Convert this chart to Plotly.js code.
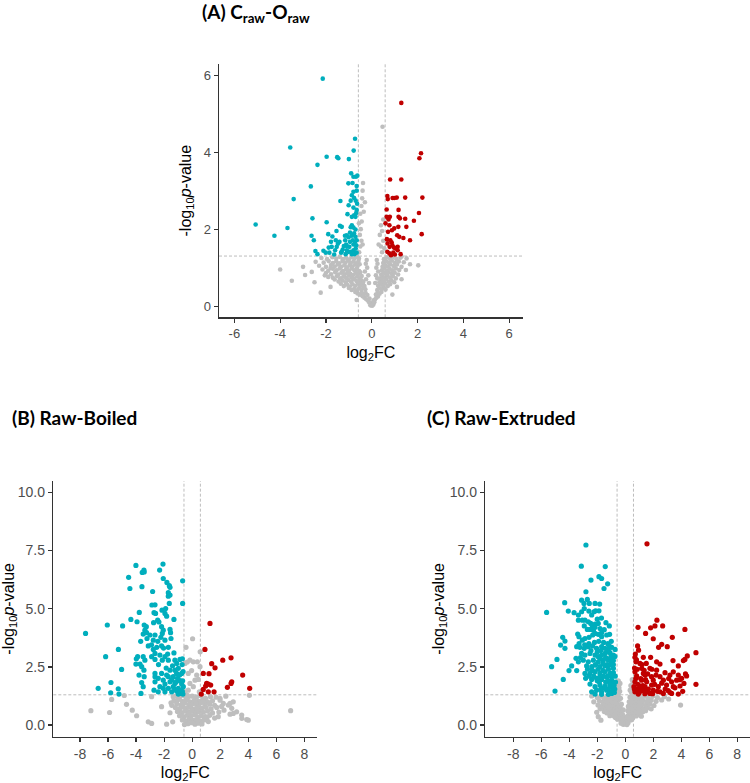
<!DOCTYPE html>
<html>
<head>
<meta charset="utf-8">
<script src="https://cdn.plot.ly/plotly-3.0.1.min.js"></script>
<style>
  html, body { margin: 0; padding: 0; background: #fff; }
  #chart { width: 750px; height: 783px; }
</style>
</head>
<body>
<div id="chart"></div>
<script>
// ---------- (A) Craw-Oraw : [log2FC, -log10 p] ----------
const aDown = [
  [-2.14,5.91],[-3.56,4.12],[-0.73,4.35],[-0.79,4.04],[-1.97,3.88],[-1.51,3.87],[-1.46,3.84],[-1.00,3.82],
  [-2.37,3.67],[-2.66,3.11],[-3.41,2.78],[-1.37,2.73],[-5.07,2.12],[-3.68,2.03],[-4.25,1.83],[-2.59,2.28],
  [-1.97,2.18],[-2.63,1.83],[-2.53,1.71],[-2.46,1.43],[-2.37,1.35],[-2.11,1.44],[-2.01,1.39],[-1.85,1.39],
  [-1.90,1.87],[-1.64,1.34],[-1.54,1.95],[-1.72,1.81],[-1.39,2.09],[-1.31,2.06],[-1.78,1.67],[-1.57,1.71],
  [-1.48,1.62],[-1.75,1.54],[-1.88,1.52],[-1.34,1.39],[-1.14,1.35],[-1.27,1.47],[-1.09,1.56],[-1.02,1.41],
  [-1.01,1.79],[-1.17,1.83],[-0.95,1.91],[-0.87,2.10],[-0.90,3.45],[-0.80,3.36],[-0.69,3.36],[-0.63,3.39],
  [-1.02,3.19],[-0.84,3.20],[-0.66,3.12],[-0.80,2.97],[-0.66,3.00],[-0.87,2.88],[-0.77,2.81],[-0.92,2.74],
  [-0.70,2.74],[-0.64,2.66],[-1.01,2.62],[-0.80,2.56],[-0.66,2.50],[-0.68,2.42],[-0.71,2.32],[-0.87,2.32],
  [-0.77,2.36],[-1.06,2.39],[-0.92,2.05],[-0.80,2.04],[-0.71,1.99],[-1.09,1.84],[-0.87,1.83],[-0.77,1.89],
  [-0.71,1.80],[-0.83,1.71],[-0.95,1.67],[-0.73,1.67],[-0.66,1.71],[-1.12,1.60],[-0.98,1.54],[-0.80,1.60],
  [-0.68,1.58],[-1.09,1.45],[-0.92,1.41],[-0.80,1.45],[-0.70,1.50],[-0.87,1.35],[-0.76,1.35],[-0.66,1.39],
  [-1.22,1.56],[-1.31,1.41],[-1.16,1.71],[-1.53,1.54],[-1.60,1.45],[-1.41,1.67]
];
const aUp = [
  [1.29,5.28],[2.15,3.97],[2.08,3.84],[0.80,3.29],[1.29,3.29],[0.68,2.86],[0.70,2.78],[0.91,2.81],
  [0.98,2.81],[1.09,2.82],[1.46,2.82],[2.21,2.82],[0.65,2.51],[1.17,2.50],[2.06,2.42],[2.18,1.87],
  [1.67,1.71],[1.84,2.22],[1.51,2.06],[1.46,2.27],[1.17,2.32],[1.23,2.28],[0.60,2.15],[0.73,2.25],
  [0.79,2.32],[0.65,2.32],[0.77,2.10],[0.88,1.97],[0.71,1.93],[1.16,2.06],[0.98,2.02],[1.11,1.84],
  [1.20,1.80],[1.38,1.77],[0.66,1.74],[0.81,1.71],[0.87,1.65],[0.69,1.63],[0.78,1.54],[0.90,1.58],
  [0.97,1.52],[1.04,1.50],[1.13,1.54],[0.68,1.41],[0.77,1.37],[0.84,1.32],[0.94,1.39],[1.01,1.34],
  [1.26,1.35],[1.13,1.45]
];
const aNs = [
  [-0.06,0.02],[0.02,0.01],[0.07,0.04],[-0.03,0.06],[0.04,0.08],[-0.10,0.09],[0.11,0.10],[-0.14,0.12],[0.00,0.03],
  [-0.32,0.22],[-0.24,0.18],[-0.18,0.16],[-0.10,0.20],[0.14,0.17],[0.20,0.22],[0.27,0.25],[-0.40,0.26],[-0.66,0.16],[0.08,0.15],
  [-0.62,0.33],[-0.52,0.30],[-0.44,0.36],[-0.35,0.31],[-0.27,0.34],[-0.19,0.29],[0.18,0.30],[0.26,0.35],[0.34,0.32],[0.42,0.37],[-0.72,0.37],[-2.23,0.35],
  [-0.88,0.42],[-0.76,0.46],[-0.64,0.41],[-0.55,0.47],[-0.45,0.43],[-0.36,0.48],[-0.28,0.44],[0.24,0.42],[0.33,0.47],[0.43,0.44],[0.52,0.49],[0.60,0.43],[-1.00,0.47],[0.90,0.30],
  [-1.22,0.52],[-1.08,0.56],[-0.96,0.51],[-0.84,0.57],[-0.72,0.53],[-0.60,0.58],[-0.50,0.54],[-0.40,0.59],[-0.32,0.52],[0.28,0.53],[0.37,0.58],[0.47,0.55],[0.58,0.59],[0.70,0.52],[0.80,0.57],[-1.80,0.50],[1.10,0.50],[-1.35,0.58],
  [-1.45,0.64],[-1.28,0.67],[-1.14,0.62],[-1.02,0.68],[-0.90,0.63],[-0.78,0.69],[-0.66,0.65],[-0.55,0.61],[-0.45,0.67],[-0.37,0.63],[0.33,0.62],[0.42,0.68],[0.52,0.64],[0.63,0.69],[0.75,0.63],[0.86,0.67],[0.98,0.62],[-3.49,0.66],[-2.50,0.62],[1.30,0.70],[-1.62,0.69],
  [-1.70,0.74],[-1.52,0.78],[-1.38,0.72],[-1.24,0.77],[-1.12,0.73],[-1.00,0.79],[-0.88,0.74],[-0.76,0.71],[-0.64,0.77],[-0.53,0.72],[-0.44,0.78],[0.37,0.72],[0.47,0.77],[0.57,0.73],[0.68,0.79],[0.80,0.74],[0.92,0.78],[1.05,0.72],[-2.05,0.80],[-1.90,0.76],
  [-2.00,0.86],[-1.78,0.83],[-1.60,0.88],[-1.46,0.82],[-1.32,0.87],[-1.18,0.83],[-1.06,0.89],[-0.94,0.84],[-0.82,0.81],[-0.70,0.87],[-0.60,0.83],[-0.50,0.88],[0.41,0.82],[0.52,0.87],[0.63,0.83],[0.74,0.88],[0.86,0.84],[1.00,0.87],[1.15,0.82],[-2.91,0.81],[-2.62,0.89],
  [-2.15,0.95],[-1.90,0.92],[-1.70,0.97],[-1.54,0.93],[-1.40,0.98],[-1.26,0.91],[-1.12,0.96],[-1.00,0.92],[-0.88,0.98],[-0.76,0.93],[-0.65,0.97],[-0.55,0.91],[0.44,0.93],[0.55,0.98],[0.66,0.92],[0.78,0.97],[0.90,0.93],[1.05,0.98],[1.20,0.94],[1.49,0.94],[-4.00,0.95],[-1.80,0.99],
  [-2.30,1.05],[-2.00,1.02],[-1.78,1.07],[-1.62,1.03],[-1.48,1.08],[-1.34,1.02],[-1.20,1.06],[-1.08,1.01],[-0.96,1.07],[-0.84,1.03],[-0.72,1.08],[-0.62,1.04],[-0.53,1.09],[0.47,1.02],[0.58,1.07],[0.70,1.03],[0.82,1.08],[0.96,1.04],[1.10,1.08],[1.67,1.09],[2.03,1.06],[-3.00,1.02],[1.30,1.02],
  [-2.45,1.15],[-2.10,1.13],[-1.88,1.17],[-1.70,1.12],[-1.55,1.16],[-1.42,1.11],[-1.28,1.17],[-1.15,1.13],[-1.03,1.18],[-0.92,1.12],[-0.80,1.16],[-0.68,1.11],[-0.58,1.17],[0.50,1.12],[0.62,1.17],[0.74,1.13],[0.88,1.18],[1.02,1.12],[1.18,1.16],[1.40,1.14],
  [-2.20,1.25],[-1.95,1.22],[-1.72,1.27],[-1.55,1.23],[-1.40,1.28],[-1.26,1.22],[-1.12,1.26],[-1.00,1.21],[-0.88,1.27],[-0.76,1.23],[-0.64,1.28],[-0.56,1.24],[0.53,1.22],[0.66,1.27],[0.80,1.23],[0.94,1.28],[1.08,1.22],[1.25,1.26],[1.52,1.24],[1.30,1.29],
  [-0.22,1.20],[-0.20,1.00],[-0.15,0.80],[-0.12,0.60],[0.15,0.60],[0.18,0.80],[0.20,1.00],[0.22,1.20],[-0.26,1.10],[0.25,1.10],[-0.30,0.90],[0.28,0.90],[-0.25,0.70],[0.24,0.72],
  [-0.55,1.40],[-0.50,1.55],[-0.45,1.70],[-0.52,1.85],[-0.48,2.00],[-0.44,2.20],[-0.50,2.40],[-0.45,2.60],[-0.42,2.80],[-0.40,3.00],[-0.38,3.20],[-0.35,2.45],[-0.40,1.60],[-0.56,2.15],[-0.30,2.70],
  [0.45,1.40],[0.40,1.55],[0.50,1.70],[0.35,1.85],[0.45,1.95],[0.40,2.10],[0.50,2.25],[0.55,1.50],[0.30,1.60],[0.47,4.66]
];

// ---------- (B) Raw-Boiled ----------
const bDown = [
  [-4.01,6.86],[-3.44,6.66],[-3.56,6.56],[-3.42,6.58],[-2.08,6.92],[-2.32,6.66],[-4.53,6.35],[-2.06,6.30],
  [-1.80,6.13],[-1.63,5.99],[-1.58,5.92],[-0.68,6.20],[-4.44,5.87],[-3.58,5.95],[-2.82,5.74],[-1.70,5.69],
  [-1.58,5.59],[-1.70,5.54],[-0.68,5.23],[-2.87,5.16],[-2.65,5.17],[-1.89,5.01],[-1.63,5.23],[-3.77,4.84],
  [-2.72,4.83],[-2.61,4.80],[-2.15,4.94],[-1.94,4.80],[-1.82,4.68],[-1.30,4.54],[-2.37,4.43],[-2.75,4.40],
  [-2.46,4.51],[-4.37,4.54],[-3.93,4.44],[-7.60,3.94],[-6.05,4.30],[-4.96,4.26],[-3.42,4.30],[-3.27,4.23],
  [-3.37,4.08],[-3.25,3.97],[-3.49,3.91],[-2.18,4.23],[-2.06,4.08],[-1.58,4.11],[-1.54,3.97],[-2.13,3.94],
  [-2.23,3.77],[-1.94,3.65],[-1.51,3.72],[-2.77,3.65],[-3.01,3.87],[-2.65,3.87],[-3.22,3.72],[-3.67,3.60],
  [-3.13,3.40],[-2.77,3.25],[-2.53,3.34],[-2.18,3.40],[-2.04,3.31],[-1.70,3.34],[-2.65,3.08],[-2.30,3.01],
  [-1.94,2.94],[-2.89,2.94],[-6.17,2.94],[-5.26,3.25],[-3.89,2.94],[-3.98,2.85],[-3.49,2.94],[-3.37,2.79],
  [-3.72,2.62],[-4.01,2.62],[-3.60,2.51],[-2.65,2.82],[-2.13,2.79],[-1.70,2.79],[-1.23,2.79],[-0.87,2.82],
  [-0.70,2.85],[-5.03,2.39],[-3.44,2.36],[-3.42,2.08],[-3.79,2.15],[-2.65,2.22],[-2.18,2.22],[-1.82,2.15],
  [-1.58,2.36],[-1.23,2.36],[-0.99,2.44],[-1.11,2.22],[-0.75,2.22],[-2.65,2.08],[-2.42,2.01],[-2.06,1.93],
  [-1.70,2.08],[-1.35,2.08],[-1.04,2.01],[-0.87,1.91],[-1.58,1.86],[-1.23,1.79],[-0.75,1.76],[-1.94,1.76],
  [-2.65,1.86],[-2.30,1.65],[-2.06,1.58],[-1.70,1.58],[-1.35,1.65],[-0.99,1.58],[-0.63,1.65],[-3.60,1.83],
  [-3.49,1.65],[-2.72,1.50],[-5.79,1.83],[-6.70,1.58],[-5.27,1.56],[-5.22,1.33],[-5.81,1.39],[-3.65,1.36],
  [-2.42,1.43],[-1.94,1.43],[-1.46,1.43],[-1.11,1.46],[-0.80,1.48],[-0.99,1.33],[-0.80,1.36],[-0.68,1.90],
  [-0.72,2.60],[-0.65,2.30],[-0.70,1.45],[-0.66,1.33],[-1.40,2.55],[-1.10,2.65],[-1.85,2.45],[-1.30,3.10],
  [-1.75,3.05],[-2.40,2.60],[-1.45,1.95],[-1.15,1.85],[-0.90,2.15],[-1.25,1.55],[-2.90,3.45],[-2.45,3.60]
];
const bUp = [
  [1.27,4.37],[0.91,3.25],[2.77,2.89],[2.18,2.79],[1.39,2.64],[1.63,2.46],[0.79,2.22],[1.20,2.21],
  [3.60,2.15],[2.82,1.86],[2.77,1.79],[1.03,1.79],[1.15,1.76],[1.32,1.72],[0.96,1.68],[2.51,1.62],
  [4.10,1.58],[0.79,1.53],[1.15,1.43],[1.56,1.43],[0.65,1.33]
];
const bNs = [
  [-7.22,0.62],[-5.89,0.54],[-5.74,1.10],[-4.84,1.27],[-4.68,0.89],[-4.27,0.64],[-3.96,0.40],[-3.13,0.14],
  [-2.89,0.07],[-2.89,1.22],[-2.18,0.79],[-1.82,0.04],[-1.39,0.14],[-1.51,0.96],[-1.58,0.53],[-1.35,1.22],
  [-0.87,0.64],[2.93,0.50],[4.08,1.28],[3.89,0.24],[3.54,0.29],[2.70,0.93],[2.27,0.64],[1.98,1.15],
  [7.02,0.62],[1.99,1.07],[2.22,0.93],[2.58,0.86],[2.93,1.00],[2.82,0.72],[3.17,0.57],[3.53,0.43],
  [4.00,0.21],[2.70,0.47],[1.86,0.36],
  [0.03,3.71],[-0.44,3.34],[0.57,3.15],[-0.16,2.79],[-0.51,2.65],[-0.35,2.71],[0.08,2.72],[0.37,2.72],
  [0.56,2.51],[-0.04,2.34],[0.32,2.15],[-0.28,2.22],[0.20,1.93],[-0.16,1.79],[0.44,1.96],[0.08,1.65],
  [-0.28,1.50],[-0.51,1.43],[0.51,1.43],
  [-1.20,1.25],[-0.90,1.20],[-0.60,1.27],[-0.30,1.18],[0.00,1.24],[0.30,1.20],[0.65,1.26],[0.95,1.15],
  [1.30,1.22],[1.70,1.20],[2.40,1.24],[-1.30,1.05],[-1.00,1.10],[-0.70,1.02],[-0.45,1.08],[-0.15,1.00],
  [0.15,1.06],[0.45,1.02],[0.75,1.08],[1.10,1.00],[1.45,1.04],[-1.10,0.92],[-0.80,0.86],[-0.55,0.95],
  [-0.25,0.88],[0.05,0.92],[0.35,0.86],[0.60,0.95],[0.90,0.88],[1.25,0.90],[1.60,0.85],[-1.20,0.75],
  [-0.95,0.70],[-0.65,0.78],[-0.40,0.72],[-0.10,0.76],[0.20,0.70],[0.45,0.78],[0.70,0.72],[1.00,0.75],
  [1.35,0.70],[1.75,0.76],[2.10,0.80],[-1.05,0.58],[-0.75,0.52],[-0.50,0.60],[-0.25,0.55],[0.00,0.62],
  [0.25,0.52],[0.50,0.58],[0.80,0.55],[1.10,0.60],[1.45,0.52],[1.90,0.56],[-0.90,0.40],[-0.60,0.35],
  [-0.35,0.42],[-0.10,0.38],[0.15,0.44],[0.40,0.35],[0.65,0.40],[0.95,0.36],[1.25,0.42],[1.60,0.30],
  [-0.70,0.22],[-0.45,0.18],[-0.20,0.25],[0.05,0.20],[0.30,0.24],[0.55,0.18],[0.85,0.22],[1.15,0.15],
  [-0.30,0.06],[-0.05,0.10],[0.20,0.04],[0.45,0.08],[0.70,0.05],[-0.55,0.02],[-1.45,0.85],[-0.35,1.28],
  [0.55,1.28],[0.25,0.95],[0.80,1.05],[-0.20,0.50],[0.35,0.65],[1.05,0.30]
];

// ---------- (C) Raw-Extruded ----------
const cDown = [
  [-2.81,7.74],[-5.62,4.84],[-3.14,6.83],[-1.43,6.81],[-2.45,6.23],[-1.88,6.38],[-1.69,6.30],[-1.26,6.07],
  [-1.52,5.87],[-2.81,5.73],[-4.33,5.26],[-4.07,4.90],[-3.66,4.83],[-3.35,4.73],[-3.12,4.87],[-2.93,5.01],
  [-2.71,5.40],[-3.12,5.37],[-2.95,5.23],[-2.57,5.23],[-2.16,5.23],[-1.83,5.20],[-2.24,4.87],[-2.12,4.91],
  [-1.88,4.91],[-2.40,4.73],[-3.35,4.51],[-3.07,4.51],[-2.88,4.51],[-2.64,4.44],[-2.47,4.37],[-2.16,4.34],
  [-1.93,4.37],[-1.38,4.40],[-1.14,4.26],[-2.35,4.20],[-2.52,4.11],[-2.28,4.08],[-2.16,4.20],[-2.71,4.11],
  [-2.93,4.26],[-3.40,3.91],[-3.31,3.80],[-3.07,3.65],[-2.88,3.72],[-2.59,3.77],[-2.33,3.87],[-2.16,3.94],
  [-1.93,3.90],[-1.69,3.80],[-1.33,3.87],[-1.12,3.90],[-1.69,3.97],[-4.47,3.77],[-4.31,3.61],[-4.62,3.44],
  [-4.31,3.30],[-3.47,3.37],[-3.24,3.34],[-2.93,3.30],[-2.64,3.37],[-2.33,3.40],[-2.05,3.30],[-1.69,3.37],
  [-1.45,3.30],[-1.21,3.22],[-0.97,3.34],[-0.73,3.25],[-3.12,3.08],[-2.88,3.01],[-2.52,3.08],[-2.16,3.01],
  [-1.93,2.94],[-1.69,3.01],[-1.45,3.08],[-1.09,3.11],[-0.85,3.01],[-3.52,2.87],[-3.35,2.72],[-3.00,2.79],
  [-2.64,2.72],[-2.28,2.79],[-1.93,2.72],[-1.57,2.79],[-1.21,2.79],[-0.85,2.77],[-4.88,2.82],[-5.26,2.51],
  [-3.83,2.54],[-4.02,2.34],[-3.47,2.34],[-4.43,1.96],[-5.02,1.46],[-2.76,2.54],[-2.40,2.51],[-2.16,2.58],
  [-1.81,2.51],[-1.45,2.54],[-1.09,2.58],[-0.85,2.44],[-2.88,2.22],[-2.52,2.22],[-2.16,2.29],[-1.81,2.22],
  [-1.45,2.29],[-1.09,2.22],[-0.85,2.25],[-2.83,2.01],[-2.40,1.96],[-2.05,2.01],[-1.69,1.96],[-1.33,2.05],
  [-0.97,1.93],[-2.52,1.76],[-2.16,1.65],[-1.81,1.72],[-1.45,1.68],[-1.09,1.65],[-0.97,1.79],[-2.40,1.43],
  [-2.05,1.50],[-1.69,1.43],[-1.33,1.50],[-1.05,1.43],[-2.16,1.33],[-1.69,1.32],[-1.21,1.32],[-0.97,1.36],
  [-0.75,1.55],[-0.70,1.85],[-0.72,2.10],[-0.74,2.95],[-0.78,1.40],
  [-2.60,3.50],[-2.20,3.55],[-1.90,3.60],[-1.55,3.55],[-1.25,3.50],[-1.00,3.60],[-2.45,3.20],[-2.00,3.15],
  [-1.75,3.20],[-1.30,3.15],[-1.05,2.90],[-1.40,2.90],[-1.80,2.85],[-2.10,2.60],[-1.60,2.65],[-1.30,2.60],
  [-1.00,2.70],[-2.35,2.35],[-1.95,2.40],[-1.60,2.35],[-1.20,2.40],[-0.95,2.10],[-1.25,2.10],[-1.55,2.10],
  [-1.85,2.05],[-2.25,2.10],[-1.40,1.85],[-1.20,1.90],[-1.85,1.85],[-1.55,1.60],[-1.25,1.55],[-0.90,1.55],
  [-1.75,1.55],[-2.00,1.90],[-2.70,2.40],[-2.60,2.10],[-3.20,2.90],[-3.30,3.50],[-2.90,3.45],[-1.10,1.75],
  [-0.80,1.70],[-0.85,2.60],[-1.00,3.00],[-1.15,3.40],[-1.50,4.10],[-1.80,4.15],[-2.00,4.55],[-1.70,4.60],
  [-2.60,4.90]
];
const cUp = [
  [1.55,7.79],[2.26,4.51],[1.81,4.18],[2.12,4.26],[2.67,4.26],[1.45,3.94],[0.91,4.20],[4.26,4.11],
  [3.36,3.77],[2.00,3.71],[2.60,3.47],[2.38,3.34],[3.00,3.37],[0.88,3.40],[0.95,3.22],[4.43,2.97],
  [4.26,2.82],[5.05,3.11],[3.41,2.77],[3.79,2.54],[4.15,2.77],[0.69,2.91],[1.29,2.91],[1.81,2.91],
  [0.76,2.72],[1.05,2.65],[2.24,2.72],[2.48,2.62],[1.17,2.44],[1.76,2.44],[0.69,2.29],[1.29,2.22],
  [2.24,2.36],[2.84,2.25],[3.43,2.29],[0.81,2.11],[1.41,2.15],[1.88,2.08],[2.48,2.08],[3.19,2.15],
  [3.79,2.15],[4.38,2.11],[4.03,2.01],[0.69,1.86],[1.17,1.93],[1.53,1.86],[2.00,1.93],[2.72,1.93],
  [3.31,1.86],[3.67,1.93],[4.19,1.79],[0.62,1.65],[1.05,1.68],[1.41,1.65],[1.88,1.72],[2.36,1.65],
  [2.95,1.72],[3.43,1.65],[3.91,1.68],[5.05,1.75],[0.69,1.43],[1.17,1.48],[1.53,1.43],[2.00,1.50],
  [2.48,1.43],[3.07,1.48],[3.31,1.36],[3.79,1.33],[2.72,1.36],[1.76,1.36],[0.93,1.33],
  [0.72,3.05],[0.80,2.80],[0.85,2.40],[0.75,2.00],[0.90,1.75],[0.80,1.55],[1.00,1.40],[1.10,2.00],
  [1.25,1.70],[1.35,2.35],[1.45,1.95],[1.60,2.20],[1.65,1.55],[1.90,2.40],[2.10,1.75],[2.20,2.15],
  [2.30,1.45],[1.95,1.35],[1.40,1.35],[1.20,2.60],[1.50,2.65],[2.60,1.80],[2.85,1.55],[3.10,2.00],
  [3.20,1.40],[3.55,1.60],[3.90,1.95],[4.10,1.45],[4.30,2.20],[1.00,1.55],[1.30,1.50],[0.65,1.55],
  [0.66,2.45]
];
const cNs = [
  [-0.15,0.03],[0.00,0.05],[0.12,0.02],[-0.05,0.12],[0.08,0.14],[-0.22,0.15],[0.20,0.10],[-0.30,0.08],
  [-0.55,0.25],[-0.42,0.30],[-0.30,0.22],[-0.18,0.28],[0.15,0.24],[0.28,0.30],[0.40,0.22],[0.52,0.29],[-1.74,0.21],[-0.70,0.32],
  [-1.93,0.36],[-1.10,0.40],[-0.92,0.46],[-0.78,0.38],[-0.64,0.44],[-0.50,0.41],[-0.36,0.47],[-0.24,0.40],[0.22,0.42],[0.34,0.47],
  [0.48,0.40],[0.62,0.46],[0.78,0.39],[0.95,0.45],[1.15,0.38],
  [-2.04,0.55],[-1.50,0.58],[-1.30,0.52],[-1.12,0.60],[-0.96,0.54],[-0.82,0.61],[-0.68,0.55],[-0.54,0.62],[-0.40,0.57],[-0.28,0.60],
  [0.30,0.55],[0.44,0.62],[0.58,0.56],[0.72,0.63],[0.88,0.55],[1.05,0.60],[1.25,0.57],[1.45,0.62],
  [-1.80,0.70],[-1.55,0.75],[-1.36,0.68],[-1.20,0.74],[-1.04,0.69],[-0.90,0.76],[-0.76,0.70],[-0.62,0.77],[-0.48,0.71],[-0.36,0.78],
  [0.34,0.69],[0.48,0.76],[0.62,0.70],[0.78,0.77],[0.94,0.71],[1.12,0.75],[1.32,0.68],[1.60,0.74],[1.85,0.70],
  [-1.95,0.86],[-1.65,0.82],[-1.45,0.90],[-1.28,0.84],[-1.12,0.91],[-0.98,0.85],[-0.84,0.92],[-0.70,0.83],[-0.56,0.89],[-0.44,0.84],
  [0.40,0.86],[0.54,0.92],[0.68,0.84],[0.84,0.90],[1.00,0.83],[1.20,0.89],[1.45,0.85],[1.75,0.91],[2.05,0.84],[3.95,0.86],
  [-2.25,1.00],[-1.85,1.04],[-1.60,0.98],[-1.42,1.06],[-1.25,1.00],[-1.10,1.07],[-0.96,1.01],[-0.82,1.08],[-0.68,0.99],[-0.56,1.05],[-0.46,1.10],
  [0.44,1.00],[0.58,1.06],[0.72,0.99],[0.88,1.07],[1.05,1.01],[1.28,1.06],[1.55,1.00],[1.85,1.07],[2.20,1.02],[2.60,1.08],
  [-2.40,1.25],[-2.00,1.18],[-1.72,1.24],[-1.50,1.15],[-1.32,1.22],[-1.16,1.16],[-1.02,1.25],[-0.88,1.17],[-0.74,1.23],[-0.62,1.14],[-0.52,1.27],
  [0.48,1.16],[0.62,1.24],[0.76,1.15],[0.92,1.22],[1.10,1.14],[1.32,1.25],[1.60,1.17],[1.95,1.24],[2.30,1.18],[2.80,1.22],[3.10,1.12],
  [-0.20,0.45],[-0.15,0.65],[0.18,0.62],[0.22,0.80],[-0.28,0.90],[0.28,1.00],[-0.34,1.15],[0.34,1.20],[-0.10,0.30],[0.10,0.35],
  [-0.50,1.35],[-0.55,1.50],[-0.45,1.60],[-0.55,1.75],[-0.50,1.90],[-0.40,1.45],[0.45,1.40],[0.50,1.55],[0.40,1.70],[0.55,1.85],
  [0.35,1.50],[0.50,1.95],[-0.38,1.79]
];

// axis tick labels (plain hyphen minus, as in the figure)
const xTicksA = [-6, -4, -2, 0, 2, 4, 6];
const xTicksBC = [-8, -6, -4, -2, 0, 2, 4, 6, 8];
const yTicksA = [0, 2, 4, 6];
const yTicksBC = [0, 2.5, 5, 7.5, 10];
const yTickTextBC = ['0.0', '2.5', '5.0', '7.5', '10.0'];

// thresholds
const fcCut = 0.585;
const pCut = 1.301;

const COL_DOWN = '#00AEBD';
const COL_UP = '#C00000';
const COL_NS = '#BEBEBE';

const W = 750, H = 783;
const FONT = 'Arial';

function pts(pairs, color, xa, ya, size) {
  return {
    type: 'scatter', mode: 'markers',
    x: pairs.map(p => p[0]), y: pairs.map(p => p[1]),
    xaxis: xa, yaxis: ya,
    marker: { color: color, size: size, line: { width: 0 } },
    hoverinfo: 'skip', showlegend: false
  };
}

const traces = [
  pts(aNs, COL_NS, 'x', 'y', 4.6),
  pts(aDown, COL_DOWN, 'x', 'y', 4.6),
  pts(aUp, COL_UP, 'x', 'y', 4.6),
  pts(bNs, COL_NS, 'x2', 'y2', 5.2),
  pts(bDown, COL_DOWN, 'x2', 'y2', 5.2),
  pts(bUp, COL_UP, 'x2', 'y2', 5.2),
  pts(cNs, COL_NS, 'x3', 'y3', 5.2),
  pts(cDown, COL_DOWN, 'x3', 'y3', 5.2),
  pts(cUp, COL_UP, 'x3', 'y3', 5.2)
];

// pixel box -> paper domain
function dom(x0, x1, yTop, yBot) {
  return { x: [x0 / W, x1 / W], y: [1 - yBot / H, 1 - yTop / H] };
}
const dA = dom(219, 522.7, 64, 317.3);
const dB = dom(53.3, 317.3, 481, 736.7);
const dC = dom(485.3, 750, 481, 736.7);

function xAxis(domain, range, ticks, anchor, fs, standoff) {
  return {
    domain: domain, range: range, anchor: anchor,
    tickmode: 'array', tickvals: ticks, ticktext: ticks.map(String),
    showline: true, linecolor: '#333', linewidth: 1.5,
    ticks: 'outside', ticklen: 4, tickwidth: 1.2, tickcolor: '#333',
    showgrid: false, zeroline: false,
    tickfont: { family: FONT, size: fs, color: '#4D4D4D' },
    title: { text: 'log<sub>2</sub>FC', font: { family: FONT, size: 16, color: '#000' }, standoff: standoff }
  };
}
function yAxis(domain, range, ticks, text, anchor, fs, standoff) {
  return {
    domain: domain, range: range, anchor: anchor,
    tickmode: 'array', tickvals: ticks, ticktext: text,
    showline: true, linecolor: '#333', linewidth: 1.5,
    ticks: 'outside', ticklen: 4, tickwidth: 1.2, tickcolor: '#333',
    showgrid: false, zeroline: false,
    tickfont: { family: FONT, size: fs, color: '#4D4D4D' },
    title: { text: '-log<sub>10</sub><i>p</i>-value', font: { family: FONT, size: 16, color: '#000' }, standoff: standoff }
  };
}

function guides(xr, yr) {
  const dash = { color: '#BDBDBD', width: 1, dash: '3px,2px' };
  return [
    { type: 'line', xref: xr, yref: yr + ' domain', x0: -fcCut, x1: -fcCut, y0: 0, y1: 1, line: dash, layer: 'below' },
    { type: 'line', xref: xr, yref: yr + ' domain', x0: fcCut, x1: fcCut, y0: 0, y1: 1, line: dash, layer: 'below' },
    { type: 'line', xref: xr + ' domain', yref: yr, x0: 0, x1: 1, y0: pCut, y1: pCut, line: dash, layer: 'below' }
  ];
}

function heading(text, px, py) {
  return {
    text: text, xref: 'paper', yref: 'paper', x: px / W, y: 1 - py / H,
    xanchor: 'left', yanchor: 'middle', showarrow: false,
    font: { family: 'Lato', size: 19, color: '#000', weight: 'bold' }
  };
}

const layout = {
  width: W, height: H,
  margin: { l: 0, r: 0, t: 0, b: 0 },
  paper_bgcolor: '#fff', plot_bgcolor: 'rgba(0,0,0,0)',
  showlegend: false,
  xaxis: xAxis(dA.x, [-6.67, 6.59], xTicksA, 'y', 13, 6),
  yaxis: yAxis(dA.y, [-0.29, 6.29], yTicksA, yTicksA.map(String), 'x', 13, 8),
  xaxis2: xAxis(dB.x, [-9.9, 8.92], xTicksBC, 'y2', 14, 6),
  yaxis2: yAxis(dB.y, [-0.5, 10.49], yTicksBC, yTickTextBC, 'x2', 14, 1),
  xaxis3: xAxis(dC.x, [-10.0, 8.91], xTicksBC, 'y3', 14, 6),
  yaxis3: yAxis(dC.y, [-0.5, 10.49], yTicksBC, yTickTextBC, 'x3', 14, 1),
  shapes: [].concat(guides('x', 'y'), guides('x2', 'y2'), guides('x3', 'y3')),
  annotations: [
    heading('<b>(A) C<sub>raw</sub>-O<sub>raw</sub></b>', 200, 13),
    heading('<b>(B) Raw-Boiled</b>', 10, 417),
    heading('<b>(C) Raw-Extruded</b>', 425, 417)
  ]
};

Plotly.newPlot('chart', traces, layout, { staticPlot: true, displayModeBar: false });
</script>
</body>
</html>
